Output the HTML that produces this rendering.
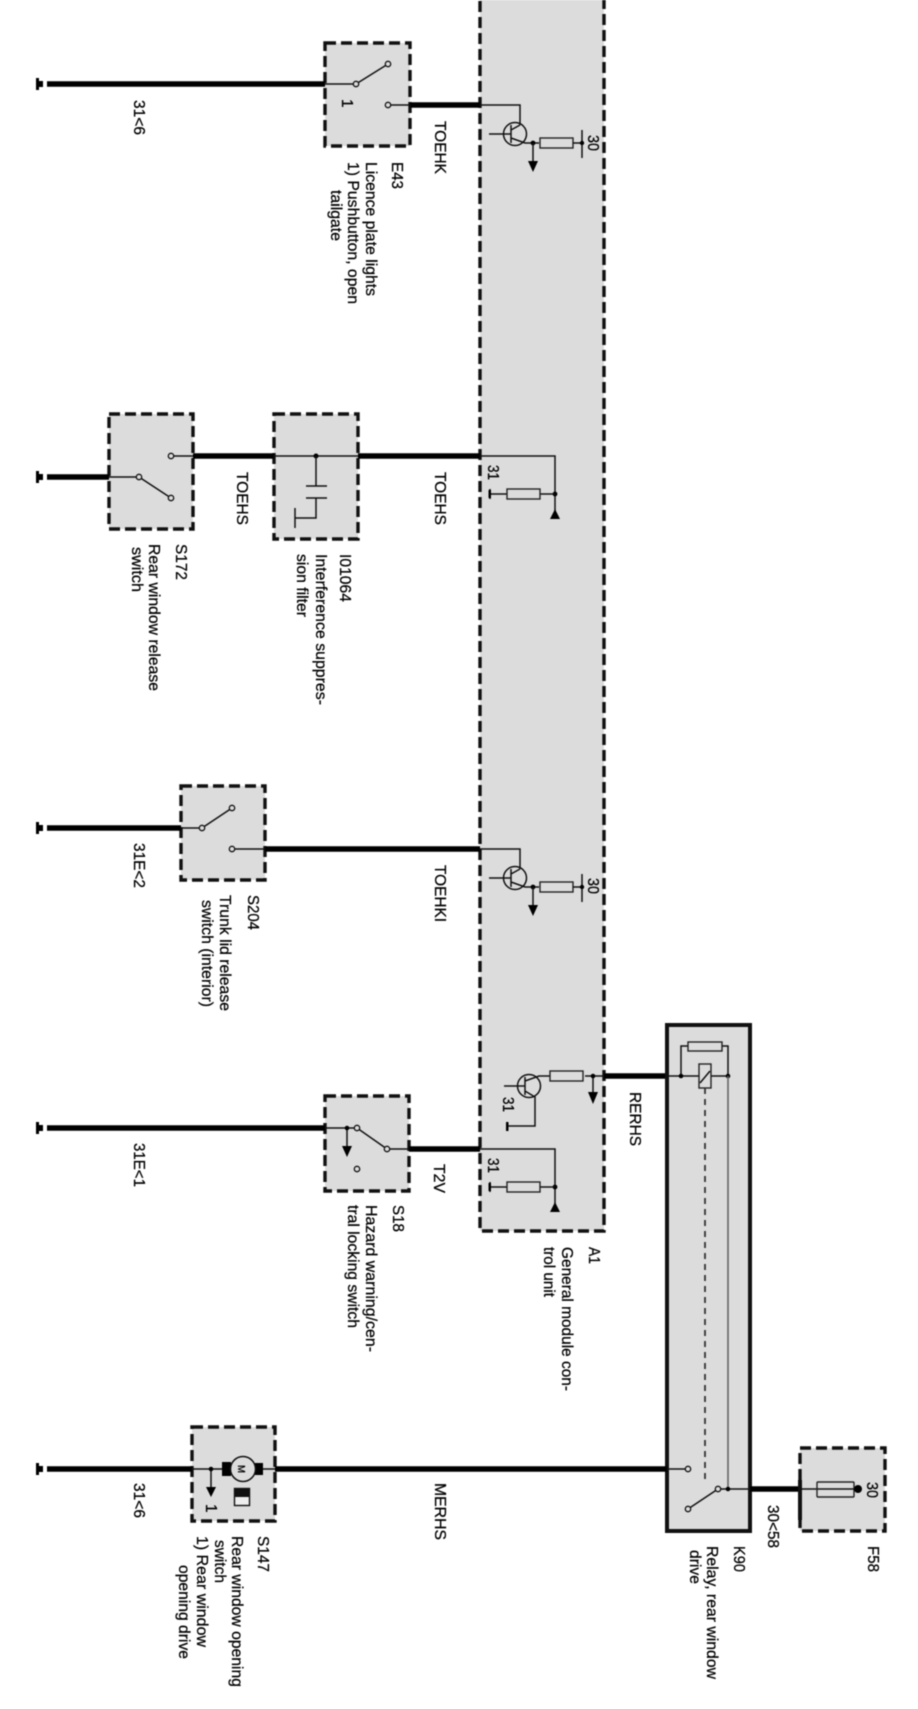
<!DOCTYPE html>
<html>
<head>
<meta charset="utf-8">
<style>
html,body{margin:0;padding:0;background:#fff;}
svg{display:block;filter:blur(0.6px);}
text{font-family:"Liberation Sans",sans-serif;font-size:15.5px;fill:#000;stroke:#000;stroke-width:0.25px;}
.th{stroke:#000;stroke-width:5.5;fill:none;}
.tn{stroke:#111;stroke-width:1.5;fill:none;}
.box{fill:#dcdcdc;stroke:#111;stroke-width:3.4;stroke-dasharray:11 5;}
.n{fill:#dcdcdc;stroke:#111;stroke-width:1.3;}
.r{fill:#dcdcdc;stroke:#222;stroke-width:1.4;}
</style>
</head>
<body>
<svg width="918" height="1709" viewBox="0 0 918 1709" xmlns="http://www.w3.org/2000/svg">
<defs>
<g id="gnd"><rect x="36" y="-6" width="3" height="12" fill="#000"/><rect x="38" y="-3" width="5" height="6" fill="#000"/></g>
<g id="trans">
<path class="tn" d="M480 0H520V20"/>
<ellipse cx="515" cy="29" rx="11.5" ry="11.5" fill="none" stroke="#111" stroke-width="1.5"/>
<path class="tn" d="M489 29H511M511 20V38M511 25L520 20M511 33L525 38H539"/>
<circle cx="533" cy="38" r="2.4" fill="#000"/>
<path class="tn" d="M533 38V56"/>
<path d="M528 56H538L533 67Z" fill="#000"/>
<rect class="r" x="540" y="33" width="33" height="10"/>
<path class="tn" d="M573 38H582M582 25V53"/>
<circle cx="582" cy="38" r="2.2" fill="#000"/>
</g>
<g id="load">
<path class="tn" d="M480 0H555V56"/>
<path d="M550 63H560L555 53Z" fill="#000"/>
<circle cx="555" cy="38" r="2.4" fill="#000"/>
<path class="tn" d="M555 38H490M490 33V43"/>
<rect x="488.500" y="34" width="2.500" height="8" fill="#000"/>
<rect class="r" x="507" y="33" width="33" height="10"/>
</g>
</defs>

<!-- A1 -->
<rect class="box" x="480" y="-6" width="124" height="1237"/>

<!-- Row 1: E43 -->
<use href="#gnd" y="84"/>
<rect class="box" x="325" y="43" width="85" height="103"/>
<path class="th" d="M47 84H325M410 105H480"/>
<path class="tn" d="M325 84H356M356 84L388 64M388 105H410"/>
<circle class="n" cx="356" cy="84" r="2.700"/><circle class="n" cx="388" cy="64" r="2.700"/><circle class="n" cx="388" cy="105" r="2.700"/>
<use href="#trans" y="105"/>
<text x="342" y="99" transform="rotate(90 342 99)">1</text>
<text x="134" y="100" transform="rotate(90 134 100)" textLength="35" lengthAdjust="spacingAndGlyphs">31&lt;6</text>
<text x="435" y="121" transform="rotate(90 435 121)" textLength="53" lengthAdjust="spacingAndGlyphs">TOEHK</text>
<text x="392" y="162" transform="rotate(90 392 162)" textLength="27" lengthAdjust="spacingAndGlyphs">E43</text>
<text x="366" y="162" transform="rotate(90 366 162)" textLength="134" lengthAdjust="spacingAndGlyphs">Licence plate lights</text>
<text x="348" y="162" transform="rotate(90 348 162)" textLength="142" lengthAdjust="spacingAndGlyphs">1) Pushbutton, open</text>
<text x="331" y="190" transform="rotate(90 331 190)" textLength="51" lengthAdjust="spacingAndGlyphs">tailgate</text>
<text x="588" y="135" transform="rotate(90 588 135)" textLength="16" lengthAdjust="spacingAndGlyphs">30</text>

<!-- Row 2: S172 / I01064 -->
<use href="#gnd" y="477"/>
<rect class="box" x="109" y="414" width="84" height="115"/>
<rect class="box" x="274" y="414" width="84" height="125"/>
<path class="th" d="M47 477H109M193 456H274M358 456H480"/>
<path class="tn" d="M109 477H139L171 498M171 456H193M274 456H358"/>
<circle class="n" cx="139" cy="477" r="2.700"/><circle class="n" cx="171" cy="498" r="2.700"/><circle class="n" cx="171" cy="456" r="2.700"/>
<circle cx="316" cy="456" r="2.500" fill="#000"/>
<path class="tn" d="M316 456V486M306 486H327M306 498H327M316 498V518H295M295 508V528"/>
<use href="#load" y="456"/>
<text x="488" y="465" transform="rotate(90 488 465)" textLength="15" lengthAdjust="spacingAndGlyphs">31</text>
<text x="237" y="472" transform="rotate(90 237 472)" textLength="53" lengthAdjust="spacingAndGlyphs">TOEHS</text>
<text x="435" y="472" transform="rotate(90 435 472)" textLength="53" lengthAdjust="spacingAndGlyphs">TOEHS</text>
<text x="176" y="544" transform="rotate(90 176 544)" textLength="36" lengthAdjust="spacingAndGlyphs">S172</text>
<text x="149" y="544" transform="rotate(90 149 544)" textLength="147" lengthAdjust="spacingAndGlyphs">Rear window release</text>
<text x="132" y="547" transform="rotate(90 132 547)" textLength="45" lengthAdjust="spacingAndGlyphs">switch</text>
<text x="340" y="554" transform="rotate(90 340 554)" textLength="48" lengthAdjust="spacingAndGlyphs">I01064</text>
<text x="316" y="554" transform="rotate(90 316 554)" textLength="151" lengthAdjust="spacingAndGlyphs">Interference suppres-</text>
<text x="297" y="554" transform="rotate(90 297 554)" textLength="63" lengthAdjust="spacingAndGlyphs">sion filter</text>

<!-- Row 3: S204 -->
<use href="#gnd" y="828"/>
<rect class="box" x="181" y="786" width="84" height="94"/>
<path class="th" d="M47 828H181M265 849H480"/>
<path class="tn" d="M181 828H202L232 808M232 849H265"/>
<circle class="n" cx="202" cy="828" r="2.700"/><circle class="n" cx="232" cy="808" r="2.700"/><circle class="n" cx="232" cy="849" r="2.700"/>
<use href="#trans" y="849"/>
<text x="588" y="878" transform="rotate(90 588 878)" textLength="16" lengthAdjust="spacingAndGlyphs">30</text>
<text x="134" y="843" transform="rotate(90 134 843)" textLength="45" lengthAdjust="spacingAndGlyphs">31E&lt;2</text>
<text x="435" y="865" transform="rotate(90 435 865)" textLength="57" lengthAdjust="spacingAndGlyphs">TOEHKI</text>
<text x="248" y="895" transform="rotate(90 248 895)" textLength="35" lengthAdjust="spacingAndGlyphs">S204</text>
<text x="220" y="895" transform="rotate(90 220 895)" textLength="116" lengthAdjust="spacingAndGlyphs">Trunk lid release</text>
<text x="202" y="900" transform="rotate(90 202 900)" textLength="107" lengthAdjust="spacingAndGlyphs">switch (interior)</text>

<!-- Row 4: S18 -->
<use href="#gnd" y="1128"/>
<rect class="box" x="325" y="1096" width="84" height="95"/>
<path class="th" d="M47 1128H325M409 1149H480"/>
<path class="tn" d="M325 1128H357L387 1149H409M347 1128V1147"/>
<circle cx="347" cy="1128" r="2.300" fill="#000"/>
<path d="M342 1146H352L347 1157Z" fill="#000"/>
<circle class="n" cx="357" cy="1128" r="2.700"/><circle class="n" cx="387" cy="1149" r="2.700"/><circle class="n" cx="357" cy="1169" r="2.700"/>
<use href="#load" y="1149"/>
<text x="488" y="1158" transform="rotate(90 488 1158)" textLength="15" lengthAdjust="spacingAndGlyphs">31</text>
<text x="134" y="1143" transform="rotate(90 134 1143)" textLength="44" lengthAdjust="spacingAndGlyphs">31E&lt;1</text>
<text x="434" y="1164" transform="rotate(90 434 1164)" textLength="29" lengthAdjust="spacingAndGlyphs">T2V</text>
<text x="393" y="1205" transform="rotate(90 393 1205)" textLength="27" lengthAdjust="spacingAndGlyphs">S18</text>
<text x="366" y="1205" transform="rotate(90 366 1205)" textLength="147" lengthAdjust="spacingAndGlyphs">Hazard warning/cen-</text>
<text x="348" y="1205" transform="rotate(90 348 1205)" textLength="123" lengthAdjust="spacingAndGlyphs">tral locking switch</text>
<text x="589" y="1247" transform="rotate(90 589 1247)" textLength="17" lengthAdjust="spacingAndGlyphs">A1</text>
<text x="562" y="1247" transform="rotate(90 562 1247)" textLength="144" lengthAdjust="spacingAndGlyphs">General module con-</text>
<text x="544" y="1247" transform="rotate(90 544 1247)" textLength="50" lengthAdjust="spacingAndGlyphs">trol unit</text>

<!-- A1 transistor to relay -->
<path class="th" d="M604 1076H667"/>
<ellipse cx="529" cy="1086" rx="11.500" ry="11.500" fill="none" stroke="#111" stroke-width="1.5"/>
<path class="tn" d="M504 1086H525M525 1077V1095M525 1081L539 1076H550M525 1091L535 1097V1126H507M507 1122V1131M585 1076H604M593 1076V1094"/>
<rect x="506" y="1122" width="2.500" height="9" fill="#000"/>
<rect class="r" x="550" y="1071" width="33" height="10"/>
<circle cx="593" cy="1076" r="2.300" fill="#000"/>
<path d="M588 1092H598L593 1104Z" fill="#000"/>
<text x="503" y="1097" transform="rotate(90 503 1097)" textLength="15" lengthAdjust="spacingAndGlyphs">31</text>
<text x="630" y="1092" transform="rotate(90 630 1092)" textLength="54" lengthAdjust="spacingAndGlyphs">RERHS</text>

<!-- K90 -->
<rect x="667" y="1025" width="83" height="506" fill="#dcdcdc" stroke="#111" stroke-width="4"/>
<path class="tn" d="M667 1076H728M681 1076V1046H688M722 1046H728V1076"/>
<rect class="r" x="688" y="1042" width="34" height="9"/>
<rect class="r" x="699" y="1064" width="12" height="24"/>
<path class="tn" d="M700 1083L710 1071"/>
<circle cx="681" cy="1076" r="2.300" fill="#000"/><circle cx="728" cy="1076" r="2.300" fill="#000"/>
<path d="M705 1088V1484" stroke="#333" stroke-width="1.8" stroke-dasharray="6 5" fill="none"/>
<path d="M728 1076V1489" stroke="#666" stroke-width="1.6" fill="none"/>
<path class="tn" d="M667 1469H688M688 1509L718 1489H750"/>
<circle class="n" cx="688" cy="1469" r="2.700"/><circle class="n" cx="688" cy="1509" r="2.700"/><circle class="n" cx="718" cy="1489" r="2.700"/>
<circle cx="728" cy="1489" r="2.300" fill="#000"/>

<!-- F58 -->
<rect class="box" x="800" y="1448" width="85" height="83"/>
<path class="th" d="M750 1489H800"/>
<rect x="798" y="1480" width="4" height="40" fill="#111"/>
<path class="tn" d="M800 1489H854"/>
<rect x="817" y="1482" width="37" height="15" rx="1" fill="none" stroke="#222" stroke-width="1.4"/>
<circle cx="858" cy="1489" r="4" fill="#000"/>
<text x="867" y="1482" transform="rotate(90 867 1482)" textLength="16" lengthAdjust="spacingAndGlyphs">30</text>
<text x="768" y="1505" transform="rotate(90 768 1505)" textLength="43" lengthAdjust="spacingAndGlyphs">30&lt;58</text>
<text x="868" y="1546" transform="rotate(90 868 1546)" textLength="26" lengthAdjust="spacingAndGlyphs">F58</text>
<text x="734" y="1546" transform="rotate(90 734 1546)" textLength="26" lengthAdjust="spacingAndGlyphs">K90</text>
<text x="707" y="1546" transform="rotate(90 707 1546)" textLength="133" lengthAdjust="spacingAndGlyphs">Relay, rear window</text>
<text x="690" y="1550" transform="rotate(90 690 1550)" textLength="34" lengthAdjust="spacingAndGlyphs">drive</text>

<!-- Row 5: S147 -->
<use href="#gnd" y="1469"/>
<rect class="box" x="192" y="1427" width="83" height="94"/>
<path class="th" d="M47 1469H192M275 1469H667"/>
<path class="tn" d="M192 1469H222M263 1469H275M211 1469V1488"/>
<circle cx="211" cy="1469" r="2.300" fill="#000"/>
<path d="M206 1487H216L211 1497Z" fill="#000"/>
<rect x="222" y="1462" width="9" height="14" fill="#000"/>
<rect x="255" y="1463" width="8" height="12" fill="#000"/>
<circle cx="243" cy="1469" r="12.500" fill="#dcdcdc" stroke="#111" stroke-width="1.5"/>
<text x="238" y="1465" transform="rotate(90 238 1465)" style="font-size:10px" textLength="8" lengthAdjust="spacingAndGlyphs">M</text>
<rect x="234.500" y="1488.500" width="15" height="17" fill="#eee" stroke="#111" stroke-width="1.4"/>
<rect x="234" y="1488" width="16" height="9" fill="#111"/>
<text x="206" y="1504" transform="rotate(90 206 1504)">1</text>
<text x="134" y="1483" transform="rotate(90 134 1483)" textLength="35" lengthAdjust="spacingAndGlyphs">31&lt;6</text>
<text x="435" y="1483" transform="rotate(90 435 1483)" textLength="57" lengthAdjust="spacingAndGlyphs">MERHS</text>
<text x="258" y="1536" transform="rotate(90 258 1536)" textLength="36" lengthAdjust="spacingAndGlyphs">S147</text>
<text x="232" y="1536" transform="rotate(90 232 1536)" textLength="151" lengthAdjust="spacingAndGlyphs">Rear window opening</text>
<text x="215" y="1540" transform="rotate(90 215 1540)" textLength="43" lengthAdjust="spacingAndGlyphs">switch</text>
<text x="197" y="1536" transform="rotate(90 197 1536)" textLength="111" lengthAdjust="spacingAndGlyphs">1) Rear window</text>
<text x="179" y="1565" transform="rotate(90 179 1565)" textLength="94" lengthAdjust="spacingAndGlyphs">opening drive</text>
</svg>
</body>
</html>
